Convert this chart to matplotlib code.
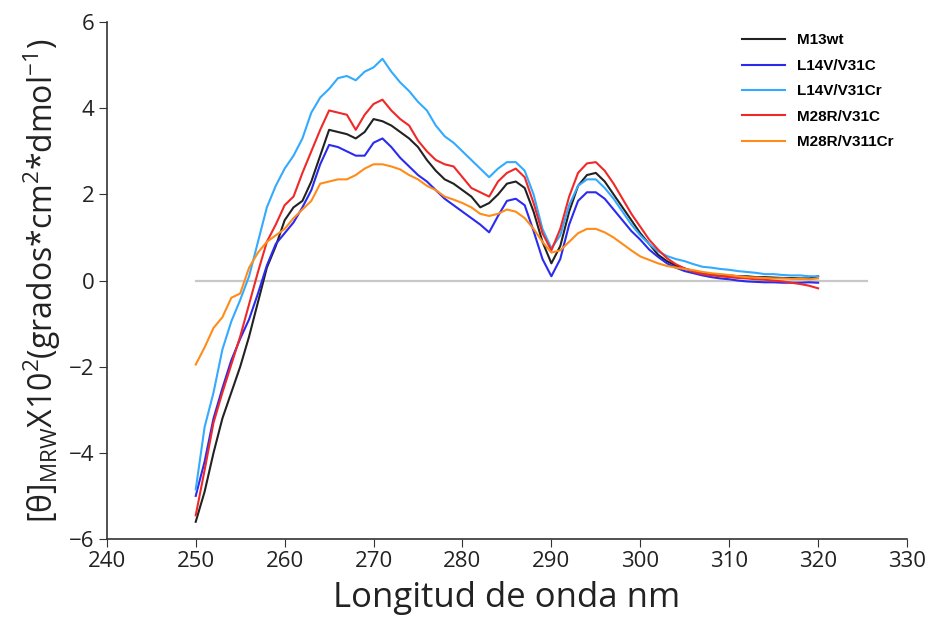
import numpy as np
import matplotlib; matplotlib.use("Agg"); import matplotlib.pyplot as plt

# longitud de onda (nm), 1 nm por punto
nm = np.arange(250, 321)

m13wt = [-5.6,-4.9,-4.0,-3.2,-2.6,-2.0,-1.3,-0.5,0.3,0.8,
         1.4,1.7,1.85,2.3,2.9,3.5,3.45,3.4,3.3,3.45,
         3.75,3.7,3.6,3.45,3.3,3.1,2.8,2.55,2.35,2.25,
         2.1,1.95,1.7,1.8,2.0,2.25,2.3,2.15,1.6,0.9,
         0.4,0.8,1.6,2.2,2.45,2.5,2.3,2.0,1.7,1.4,
         1.1,0.85,0.6,0.45,0.35,0.28,0.22,0.18,0.15,0.13,
         0.12,0.1,0.1,0.08,0.08,0.07,0.06,0.06,0.05,0.05,0.1]
l14v_v31c = [-5.0,-4.2,-3.2,-2.5,-1.85,-1.35,-0.9,-0.3,0.35,0.85,
             1.1,1.35,1.7,2.1,2.7,3.15,3.1,3.0,2.9,2.9,
             3.2,3.3,3.1,2.85,2.65,2.45,2.3,2.1,1.9,1.75,
             1.6,1.45,1.3,1.12,1.5,1.85,1.9,1.75,1.15,0.5,
             0.1,0.5,1.3,1.85,2.05,2.05,1.9,1.65,1.4,1.15,
             0.95,0.72,0.55,0.4,0.3,0.22,0.17,0.12,0.08,0.05,
             0.03,0.0,-0.02,-0.03,-0.04,-0.04,-0.05,-0.05,-0.05,-0.04,-0.05]
l14v_v31cr = [-4.85,-3.4,-2.6,-1.6,-0.95,-0.45,0.1,0.9,1.7,2.2,
              2.6,2.9,3.3,3.9,4.25,4.45,4.7,4.75,4.65,4.85,
              4.95,5.15,4.85,4.6,4.4,4.15,3.95,3.6,3.35,3.2,
              3.0,2.8,2.6,2.4,2.6,2.75,2.75,2.55,2.0,1.2,
              0.75,1.05,1.75,2.2,2.35,2.35,2.15,1.9,1.6,1.3,
              1.05,0.85,0.68,0.57,0.5,0.45,0.38,0.32,0.3,0.27,
              0.25,0.22,0.2,0.18,0.15,0.15,0.13,0.12,0.12,0.1,0.1]
m28r_v31c = [-5.45,-4.4,-3.3,-2.6,-1.95,-1.3,-0.55,0.2,0.9,1.3,
             1.75,1.95,2.5,3.0,3.5,3.95,3.9,3.85,3.5,3.85,
             4.1,4.2,3.95,3.75,3.6,3.25,3.0,2.8,2.7,2.65,
             2.4,2.15,2.05,1.95,2.3,2.5,2.6,2.4,1.8,1.1,
             0.7,1.2,1.95,2.5,2.72,2.75,2.55,2.25,1.9,1.55,
             1.25,0.95,0.72,0.52,0.38,0.28,0.2,0.15,0.12,0.1,
             0.08,0.06,0.05,0.03,0.02,0.0,-0.02,-0.05,-0.08,-0.12,-0.18]
m28r_v311cr = [-1.95,-1.55,-1.1,-0.85,-0.4,-0.3,0.3,0.65,0.9,1.05,
               1.2,1.45,1.65,1.85,2.25,2.3,2.35,2.35,2.45,2.6,
               2.7,2.7,2.65,2.58,2.45,2.35,2.2,2.1,1.95,1.88,
               1.8,1.7,1.55,1.5,1.55,1.65,1.6,1.45,1.2,0.9,
               0.65,0.7,0.9,1.1,1.2,1.2,1.12,1.0,0.85,0.7,
               0.56,0.48,0.4,0.34,0.3,0.27,0.24,0.2,0.17,0.15,
               0.13,0.1,0.08,0.07,0.06,0.05,0.05,0.04,0.04,0.03,0.05]

series = [("M13wt", m13wt, "#222222"),
          ("L14V/V31C", l14v_v31c, "#2b2bf0"),
          ("L14V/V31Cr", l14v_v31cr, "#33aaff"),
          ("M28R/V31C", m28r_v31c, "#f02828"),
          ("M28R/V311Cr", m28r_v311cr, "#ff8c1a")]

plt.rcParams["font.family"] = ["Open Sans", "DejaVu Sans"]
fig = plt.figure(figsize=(9.37, 6.33), dpi=100)
ax = fig.add_axes([0.114, 0.1485, 0.854, 0.8165])

ax.plot([250, 325.5], [0, 0], color="#c8c8c8", lw=1.6, zorder=1)
for lab, y, c in series:
    ax.plot(nm, y, color=c, lw=1.5, label=lab, zorder=2)

ax.set_xlim(240, 330); ax.set_ylim(-6, 6)
ax.set_xticks(np.arange(240, 331, 10)); ax.set_yticks(np.arange(-6, 7, 2))
for s in ("top", "right"): ax.spines[s].set_visible(False)
for s in ("left", "bottom"): ax.spines[s].set_color("#333333"); ax.spines[s].set_linewidth(1.2)
ax.tick_params(direction="out", length=6, labelsize=16, colors="#333333", pad=3)
ax.tick_params(labelcolor="#222222")
ax.set_xlabel("Longitud de onda nm", fontsize=25, color="#222222", labelpad=6)
ax.set_ylabel(r"[θ]$_{\mathregular{MRW}}$X10$^{\mathregular{2}}$(grados*cm$^{\mathregular{2}}$*dmol$^{\mathregular{-1}}$)",
              fontsize=23, color="#222222", labelpad=4)

leg = ax.legend(loc="upper left", bbox_to_anchor=(0.786, 0.99), borderaxespad=0, frameon=False,
                handlelength=2.8, handletextpad=0.8, labelspacing=0.75,
                prop={"family": "Liberation Sans", "weight": "bold", "size": 11})

fig.savefig("out.png")
